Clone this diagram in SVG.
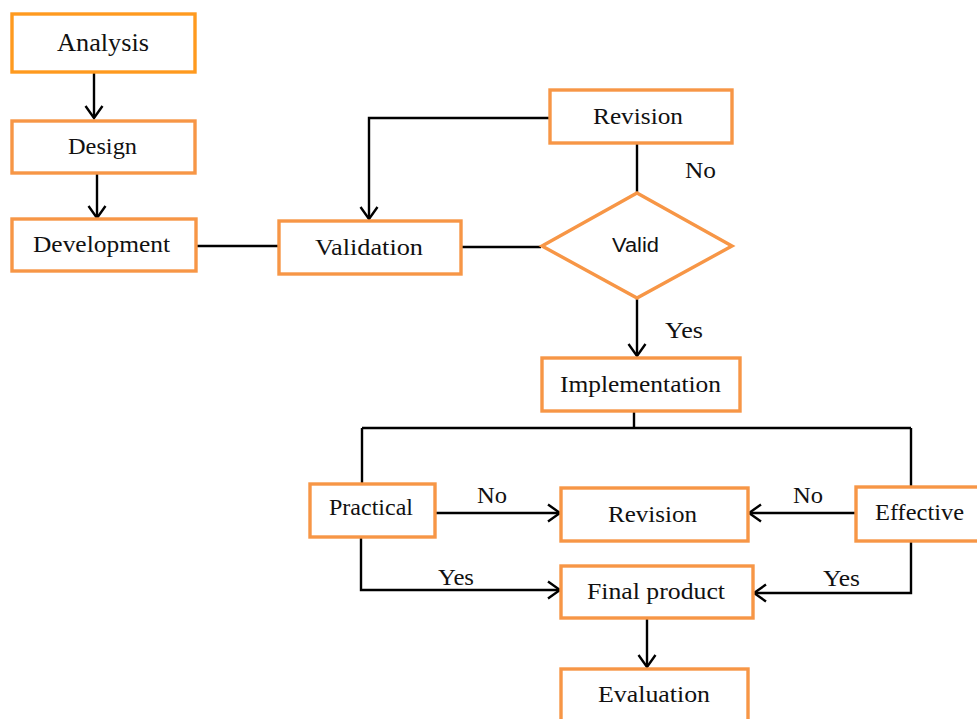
<svg xmlns="http://www.w3.org/2000/svg" width="977" height="719" viewBox="0 0 977 719">
<defs>
<marker id="arr" viewBox="0 0 15 20" refX="13.5" refY="10" markerWidth="15" markerHeight="20" markerUnits="userSpaceOnUse" orient="auto">
<path d="M1.5,1.5 L13.5,10 L1.5,18.5" fill="none" stroke="#000" stroke-width="2.4"/>
</marker>
<style>
.box{fill:#fff;stroke:#F79646;stroke-width:3.4}
.box2{fill:#fff;stroke:#FF9A1F;stroke-width:3.4}
.t{font-family:"Liberation Serif","Times New Roman",serif;font-size:24px;fill:#111}
.ln{fill:none;stroke:#000;stroke-width:2.4}
.ar{fill:none;stroke:#000;stroke-width:2.4;marker-end:url(#arr)}
</style>
</defs>
<g id="connectors">
<path class="ar" d="M94,73 V118"/>
<path class="ar" d="M97,173 V218"/>
<path class="ln" d="M196,246 H278"/>
<path class="ln" d="M461,247 H541"/>
<path class="ar" d="M550,118 H369 V219"/>
<path class="ln" d="M637,144 V192"/>
<path class="ar" d="M637,298 V356"/>
<path class="ln" d="M634,411 V428 M362,428 H911 M362,428 V484 M911,428 V487"/>
<path class="ar" d="M436,513 H560"/>
<path class="ar" d="M856,513 H749"/>
<path class="ar" d="M361,538 V590 H560"/>
<path class="ar" d="M911,541 V593 H754"/>
<path class="ar" d="M647,618 V667"/>
<text class="t" x="685" y="178" textLength="31" lengthAdjust="spacingAndGlyphs">No</text>
<text class="t" x="665" y="338" textLength="38" lengthAdjust="spacingAndGlyphs">Yes</text>
<text class="t" x="477" y="503" textLength="30" lengthAdjust="spacingAndGlyphs">No</text>
<text class="t" x="793" y="503" textLength="30" lengthAdjust="spacingAndGlyphs">No</text>
<text class="t" x="438" y="585" textLength="36" lengthAdjust="spacingAndGlyphs">Yes</text>
<text class="t" x="823" y="586" textLength="37" lengthAdjust="spacingAndGlyphs">Yes</text>
</g>
<g id="analysis"><rect class="box2" x="12" y="14" width="183" height="58"/><text class="t" x="57" y="51" style="font-size:26px" textLength="92" lengthAdjust="spacingAndGlyphs">Analysis</text></g>
<g id="design"><rect class="box" x="12" y="121" width="183" height="52"/><text class="t" x="68" y="154" textLength="69" lengthAdjust="spacingAndGlyphs">Design</text></g>
<g id="development"><rect class="box" x="12" y="219" width="184" height="52"/><text class="t" x="33" y="252" textLength="137" lengthAdjust="spacingAndGlyphs">Development</text></g>
<g id="validation"><rect class="box" x="279" y="221" width="182" height="53"/><text class="t" x="315" y="255" textLength="108" lengthAdjust="spacingAndGlyphs">Validation</text></g>
<g id="revision1"><rect class="box" x="550" y="90" width="182" height="53"/><text class="t" x="593" y="124" textLength="90" lengthAdjust="spacingAndGlyphs">Revision</text></g>
<g id="valid"><path class="box" d="M637,193 L732,246 L637,298 L542,246 Z"/><text x="612" y="252" textLength="47" lengthAdjust="spacingAndGlyphs" style="font-family:'Liberation Sans',Arial,sans-serif;font-size:20px;fill:#111">Valid</text></g>
<g id="implementation"><rect class="box" x="542" y="358" width="198" height="53"/><text class="t" x="560" y="392" textLength="161" lengthAdjust="spacingAndGlyphs">Implementation</text></g>
<g id="practical"><rect class="box" x="310" y="484" width="125" height="53"/><text class="t" x="329" y="515" textLength="84" lengthAdjust="spacingAndGlyphs">Practical</text></g>
<g id="revision2"><rect class="box" x="561" y="488" width="187" height="53"/><text class="t" x="608" y="522" textLength="89" lengthAdjust="spacingAndGlyphs">Revision</text></g>
<g id="effective"><rect class="box" x="856" y="487" width="124" height="54"/><text class="t" x="875" y="520" textLength="89" lengthAdjust="spacingAndGlyphs">Effective</text></g>
<g id="finalproduct"><rect class="box" x="561" y="566" width="192" height="52"/><text class="t" x="587" y="599" textLength="138" lengthAdjust="spacingAndGlyphs">Final product</text></g>
<g id="evaluation"><rect class="box" x="561" y="669" width="187" height="56"/><text class="t" x="598" y="702" textLength="112" lengthAdjust="spacingAndGlyphs">Evaluation</text></g>
</svg>
